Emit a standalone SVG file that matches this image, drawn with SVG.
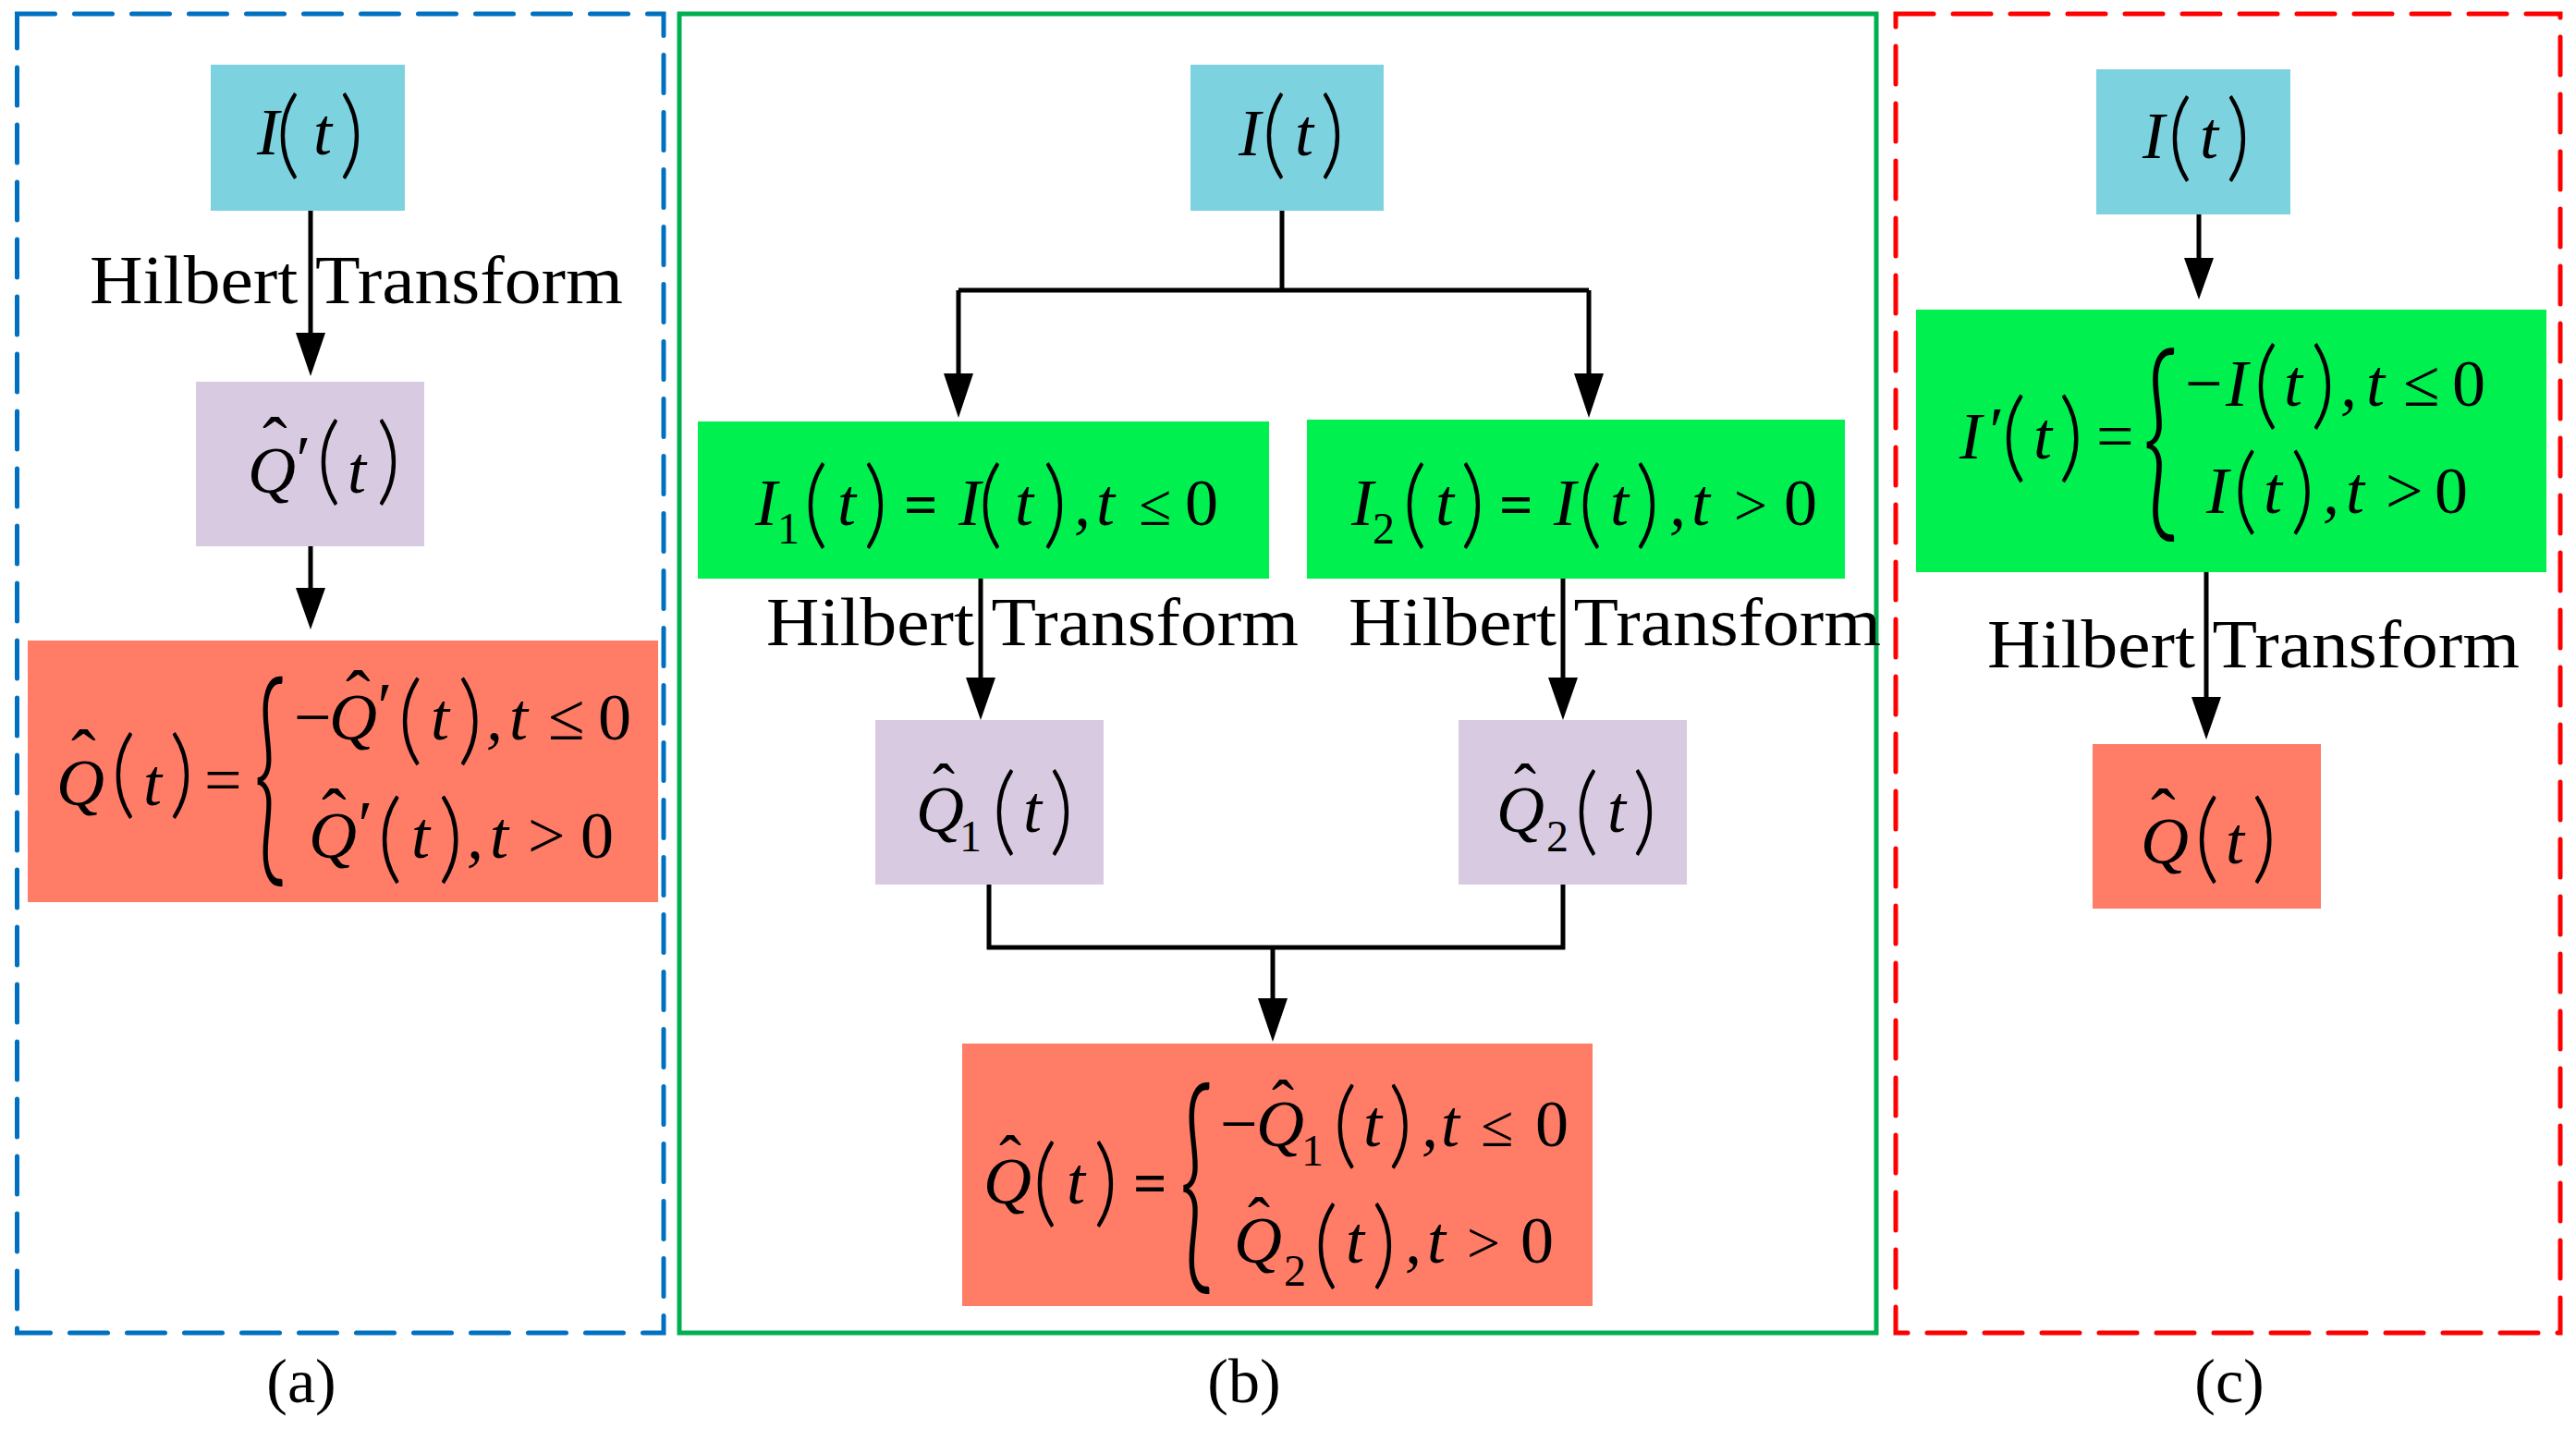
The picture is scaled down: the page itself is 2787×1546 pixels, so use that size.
<svg xmlns="http://www.w3.org/2000/svg" width="2787" height="1546" viewBox="0 0 2787 1546">
<style>
text { font-family: "Liberation Serif", "Times New Roman", serif; fill: #000; font-size: 72px; }
.i { font-style: italic; }
.s { font-size: 48px; font-style: normal; }
.h { font-size: 80px; font-style: normal; }
.hb { font-size: 72px; font-style: normal; }
.eb { font-size: 64px; font-weight: bold; }
.rel { font-size: 64px; }
.p { font-family: Lato, Roboto, "DejaVu Sans", sans-serif; font-weight: 300; font-style: normal; }
.br { font-family: Lato, Roboto, "DejaVu Sans", sans-serif; font-weight: 300; font-size: 100px; }
.ht { font-size: 75px; }
.lb { font-size: 68px; }
.cyan { fill: #7DD2E0; }
.lav { fill: #D8CBE1; }
.sal { fill: #FF7C67; }
.grn { fill: #00F050; }
.frame { fill: none; stroke-width: 5; }
.conn line, .conn path { stroke: #000; stroke-width: 5; fill: none; }
.conn polygon { fill: #000; }
</style>

<!-- panel frames -->
<g id="frames">
  <rect class="frame" x="18.5" y="15" width="699.5" height="1427" stroke="#0070C0" stroke-dasharray="41 21" stroke-linecap="round"/>
  <rect class="frame" x="735" y="15" width="1295" height="1427" stroke="#00B050"/>
  <rect class="frame" x="2051" y="15" width="719" height="1427" stroke="#FF0000" stroke-dasharray="41 21" stroke-linecap="round"/>
</g>

<!-- connectors -->
<g id="connectors" class="conn">
  <line x1="336" y1="228" x2="336" y2="362"/>
  <polygon points="320,360 352,360 336,407"/>
  <line x1="336" y1="591" x2="336" y2="638"/>
  <polygon points="320,636 352,636 336,681"/>
  <path d="M1387,228 V314 M1037,314 H1719 M1037,314 V406 M1719,314 V406"/>
  <polygon points="1021,404 1053,404 1037,452"/>
  <polygon points="1703,404 1735,404 1719,452"/>
  <line x1="1061" y1="626" x2="1061" y2="735"/>
  <polygon points="1045,733 1077,733 1061,779"/>
  <line x1="1691" y1="626" x2="1691" y2="735"/>
  <polygon points="1675,733 1707,733 1691,779"/>
  <path d="M1070,957 V1025 H1691 V957 M1377,1025 V1082"/>
  <polygon points="1361,1080 1393,1080 1377,1127"/>
  <line x1="2379" y1="232" x2="2379" y2="281"/>
  <polygon points="2363,279 2395,279 2379,324"/>
  <line x1="2387" y1="619" x2="2387" y2="756"/>
  <polygon points="2371,754 2403,754 2387,800"/>
</g>

<!-- edge labels -->
<g id="edge-labels">
  <text class="ht" x="97" y="328" textLength="577" lengthAdjust="spacingAndGlyphs">Hilbert Transform</text>
  <text class="ht" x="829" y="698" textLength="576" lengthAdjust="spacingAndGlyphs">Hilbert Transform</text>
  <text class="ht" x="1459" y="698" textLength="576" lengthAdjust="spacingAndGlyphs">Hilbert Transform</text>
  <text class="ht" x="2150" y="722" textLength="576" lengthAdjust="spacingAndGlyphs">Hilbert Transform</text>
</g>

<!-- ===== Panel (a) ===== -->
<g id="a-input">
  <rect class="cyan" x="228" y="70" width="210" height="158"/>
  <text><tspan class="i" x="278" y="167">I</tspan><tspan class="p" font-size="104" x="298" y="180">(</tspan><tspan class="i" x="339" y="167">t</tspan><tspan class="p" font-size="104" x="367" y="180">)</tspan></text>
</g>
<g id="a-qprime">
  <rect class="lav" x="212" y="413" width="247" height="178"/>
  <text><tspan class="i" x="268" y="533">Q</tspan><tspan class="h" x="284" y="507">ˆ</tspan><tspan class="i" x="316" y="521">′</tspan><tspan class="p" font-size="104" x="342" y="533">(</tspan><tspan class="i" x="376" y="533">t</tspan><tspan class="p" font-size="104" x="407" y="533">)</tspan></text>
</g>
<g id="a-output">
  <rect class="sal" x="30" y="693" width="682" height="283"/>
  <text><tspan class="i" x="61" y="871">Q</tspan><tspan class="h" x="77" y="845">ˆ</tspan><tspan class="p" font-size="104" x="120" y="872">(</tspan><tspan class="i" x="155" y="871">t</tspan><tspan class="p" font-size="104" x="183" y="872">)</tspan><tspan x="221" y="868">=</tspan></text>
  <text class="br" transform="translate(273.5,925) scale(1.25,2.55)">{</text>
  <text><tspan x="318" y="800">−</tspan><tspan class="i" x="356" y="800">Q</tspan><tspan class="h" x="374" y="781">ˆ</tspan><tspan class="i" x="404" y="788">′</tspan><tspan class="p" font-size="106" x="430" y="814">(</tspan><tspan class="i" x="466" y="800">t</tspan><tspan class="p" font-size="106" x="495" y="814">)</tspan><tspan class="i" x="526" y="800">,</tspan><tspan class="i" x="551" y="800">t</tspan><tspan x="593" y="800">≤</tspan><tspan x="647" y="800">0</tspan></text>
  <text><tspan class="i" x="334" y="928">Q</tspan><tspan class="h" x="348" y="909">ˆ</tspan><tspan class="i" x="383" y="916">′</tspan><tspan class="p" font-size="106" x="408" y="942">(</tspan><tspan class="i" x="445" y="928">t</tspan><tspan class="p" font-size="106" x="474" y="942">)</tspan><tspan class="i" x="505" y="928">,</tspan><tspan class="i" x="530" y="928">t</tspan><tspan x="571" y="928">&gt;</tspan><tspan x="628" y="928">0</tspan></text>
</g>

<!-- ===== Panel (b) ===== -->
<g id="b-input">
  <rect class="cyan" x="1288" y="70" width="209" height="158"/>
  <text><tspan class="i" x="1340" y="168">I</tspan><tspan class="p" font-size="104" x="1365" y="180">(</tspan><tspan class="i" x="1401" y="168">t</tspan><tspan class="p" font-size="104" x="1428" y="180">)</tspan></text>
</g>
<g id="b-i1">
  <rect class="grn" x="755" y="456" width="618" height="170"/>
  <text><tspan class="i" x="817" y="568">I</tspan><tspan class="s" x="841" y="588">1</tspan><tspan class="p" font-size="104" x="869" y="580">(</tspan><tspan class="i" x="906" y="568">t</tspan><tspan class="p" font-size="104" x="934" y="580">)</tspan><tspan class="eb" x="978" y="568">=</tspan><tspan class="i" x="1037" y="568">I</tspan><tspan class="p" font-size="104" x="1058" y="580">(</tspan><tspan class="i" x="1098" y="568">t</tspan><tspan class="p" font-size="104" x="1128" y="580">)</tspan><tspan class="i" x="1162" y="568">,</tspan><tspan class="i" x="1186" y="568">t</tspan><tspan class="rel" x="1232" y="568">≤</tspan><tspan x="1282" y="568">0</tspan></text>
</g>
<g id="b-i2">
  <rect class="grn" x="1414" y="454" width="582" height="172"/>
  <text><tspan class="i" x="1462" y="568">I</tspan><tspan class="s" x="1485" y="588">2</tspan><tspan class="p" font-size="104" x="1517" y="580">(</tspan><tspan class="i" x="1553" y="568">t</tspan><tspan class="p" font-size="104" x="1580" y="580">)</tspan><tspan class="eb" x="1622" y="568">=</tspan><tspan class="i" x="1681" y="568">I</tspan><tspan class="p" font-size="104" x="1707" y="580">(</tspan><tspan class="i" x="1742" y="568">t</tspan><tspan class="p" font-size="104" x="1769" y="580">)</tspan><tspan class="i" x="1806" y="568">,</tspan><tspan class="i" x="1830" y="568">t</tspan><tspan class="rel" x="1876" y="568">&gt;</tspan><tspan x="1930" y="568">0</tspan></text>
</g>
<g id="b-q1">
  <rect class="lav" x="947" y="779" width="247" height="178"/>
  <text><tspan class="i" x="991" y="900">Q</tspan><tspan class="hb" x="1009" y="876">ˆ</tspan><tspan class="s" x="1038" y="921">1</tspan><tspan class="p" font-size="104" x="1073" y="912">(</tspan><tspan class="i" x="1107" y="900">t</tspan><tspan class="p" font-size="104" x="1135" y="912">)</tspan></text>
</g>
<g id="b-q2">
  <rect class="lav" x="1578" y="779" width="247" height="178"/>
  <text><tspan class="i" x="1619" y="900">Q</tspan><tspan class="hb" x="1638" y="876">ˆ</tspan><tspan class="s" x="1673" y="921">2</tspan><tspan class="p" font-size="104" x="1703" y="912">(</tspan><tspan class="i" x="1739" y="900">t</tspan><tspan class="p" font-size="104" x="1766" y="912">)</tspan></text>
</g>
<g id="b-output">
  <rect class="sal" x="1041" y="1129" width="682" height="284"/>
  <text><tspan class="i" x="1064" y="1302">Q</tspan><tspan class="hb" x="1081" y="1278">ˆ</tspan><tspan class="p" font-size="104" x="1117" y="1314">(</tspan><tspan class="i" x="1154" y="1302">t</tspan><tspan class="p" font-size="104" x="1183" y="1314">)</tspan><tspan class="eb" x="1226" y="1302">=</tspan></text>
  <text class="br" transform="translate(1275,1366) scale(1.3,2.56)">{</text>
  <text><tspan x="1320" y="1240">−</tspan><tspan class="i" x="1359" y="1240">Q</tspan><tspan class="hb" x="1376" y="1218">ˆ</tspan><tspan class="s" x="1408" y="1261">1</tspan><tspan class="p" font-size="102" x="1442" y="1251">(</tspan><tspan class="i" x="1475" y="1240">t</tspan><tspan class="p" font-size="102" x="1502" y="1251">)</tspan><tspan class="i" x="1538" y="1240">,</tspan><tspan class="i" x="1559" y="1240">t</tspan><tspan class="rel" x="1602" y="1240">≤</tspan><tspan x="1661" y="1240">0</tspan></text>
  <text><tspan class="i" x="1335" y="1366">Q</tspan><tspan class="hb" x="1350" y="1345">ˆ</tspan><tspan class="s" x="1389" y="1391">2</tspan><tspan class="p" font-size="104" x="1421" y="1381">(</tspan><tspan class="i" x="1456" y="1366">t</tspan><tspan class="p" font-size="104" x="1484" y="1381">)</tspan><tspan class="i" x="1520" y="1366">,</tspan><tspan class="i" x="1544" y="1366">t</tspan><tspan class="rel" x="1587" y="1366">&gt;</tspan><tspan x="1645" y="1366">0</tspan></text>
</g>

<!-- ===== Panel (c) ===== -->
<g id="c-input">
  <rect class="cyan" x="2268" y="75" width="210" height="157"/>
  <text><tspan class="i" x="2318" y="171">I</tspan><tspan class="p" font-size="104" x="2345" y="183">(</tspan><tspan class="i" x="2380" y="171">t</tspan><tspan class="p" font-size="104" x="2408" y="183">)</tspan></text>
</g>
<g id="c-iprime">
  <rect class="grn" x="2073" y="335" width="682" height="284"/>
  <text><tspan class="i" x="2120" y="496">I</tspan><tspan class="i" x="2148" y="490">′</tspan><tspan class="p" font-size="106" x="2165" y="508">(</tspan><tspan class="i" x="2200" y="496">t</tspan><tspan class="p" font-size="106" x="2227" y="508">)</tspan><tspan x="2268" y="496">=</tspan></text>
  <text class="br" transform="translate(2317,555) scale(1.37,2.35)">{</text>
  <text><tspan x="2364" y="439">−</tspan><tspan class="i" x="2408" y="439">I</tspan><tspan class="p" font-size="104" x="2438" y="451">(</tspan><tspan class="i" x="2471" y="439">t</tspan><tspan class="p" font-size="104" x="2500" y="451">)</tspan><tspan class="i" x="2532" y="439">,</tspan><tspan class="i" x="2560" y="439">t</tspan><tspan x="2600" y="439">≤</tspan><tspan x="2653" y="439">0</tspan></text>
  <text><tspan class="i" x="2387" y="555">I</tspan><tspan class="p" font-size="102" x="2416" y="565">(</tspan><tspan class="i" x="2449" y="555">t</tspan><tspan class="p" font-size="102" x="2478" y="565">)</tspan><tspan class="i" x="2513" y="555">,</tspan><tspan class="i" x="2538" y="555">t</tspan><tspan x="2581" y="555">&gt;</tspan><tspan x="2634" y="555">0</tspan></text>
</g>
<g id="c-output">
  <rect class="sal" x="2264" y="805" width="247" height="178"/>
  <text><tspan class="i" x="2316" y="934">Q</tspan><tspan class="h" x="2327" y="909">ˆ</tspan><tspan class="p" font-size="106" x="2374" y="942">(</tspan><tspan class="i" x="2408" y="934">t</tspan><tspan class="p" font-size="106" x="2436" y="942">)</tspan></text>
</g>

<!-- panel captions -->
<g id="captions">
  <text class="lb" x="326" y="1517" text-anchor="middle">(a)</text>
  <text class="lb" x="1346" y="1517" text-anchor="middle">(b)</text>
  <text class="lb" x="2412" y="1517" text-anchor="middle">(c)</text>
</g>
</svg>
